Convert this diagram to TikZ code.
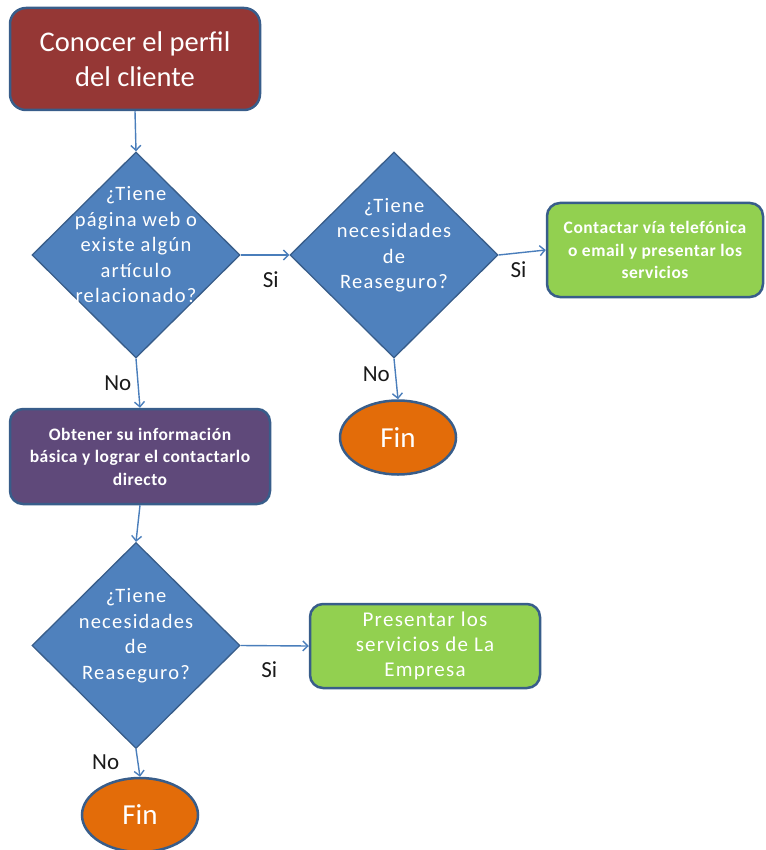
\documentclass[tikz,border=0pt]{standalone}
\usepackage{fontspec}
\setmainfont{Carlito}
\usetikzlibrary{shapes.geometric,arrows.meta}

\definecolor{rim}{HTML}{385D8A}
\definecolor{wine}{HTML}{953735}
\definecolor{decision}{HTML}{4F81BD}
\definecolor{leaf}{HTML}{92D050}
\definecolor{plum}{HTML}{5F497A}
\definecolor{ember}{HTML}{E36C09}
\definecolor{link}{HTML}{4A7EBB}
\definecolor{ink}{HTML}{1A1A1A}

\tikzset{
  box/.style={draw=rim, line width=2.5pt, rounded corners=13pt, align=center,
    text=white, inner sep=0pt},
  decide/.style={shape=diamond, draw=rim, line width=1.3pt, fill=decision,
    minimum width=208pt, minimum height=206pt, inner sep=0pt},
  dtext/.style={text=white, align=center,
    font=\fontsize{20.5}{25.5}\selectfont\addfontfeatures{LetterSpace=6}},
  endpoint/.style={shape=ellipse, draw=rim, line width=2.5pt, fill=ember,
    minimum width=116pt, minimum height=74pt, inner sep=0pt, text=white,
    font=\fontsize{29}{32}\selectfont},
  arr/.style={draw=link, line width=1.4pt, -{Straight Barb[length=5pt,width=10pt]}},
  lbl/.style={text=ink, font=\fontsize{23}{26}\selectfont, inner sep=0pt}
}

\begin{document}
\begin{tikzpicture}[x=1pt,y=-1pt]
\useasboundingbox (0,0) rectangle (765,850);

% process boxes
\node[box, fill=wine, minimum width=250pt, minimum height=102pt,
      rounded corners=16pt, font=\fontsize{28.5}{35}\selectfont]
      (start) at (135,59) {Conocer el perfil\\del cliente};
\node[box, fill=plum, minimum width=260pt, minimum height=95pt,
      font=\fontsize{17.5}{22.5}\selectfont\bfseries\addfontfeatures{LetterSpace=3}]
      (info) at (140,456.5) {Obtener su información\\básica y lograr el contactarlo\\directo};
\node[box, fill=leaf, minimum width=216pt, minimum height=94pt,
      font=\fontsize{17.5}{22.5}\selectfont\bfseries\addfontfeatures{LetterSpace=3}]
      (call) at (655,250) {Contactar vía telefónica\\o email y presentar los\\servicios};
\node[box, fill=leaf, minimum width=230pt, minimum height=84pt,
      font=\fontsize{21}{25}\selectfont\addfontfeatures{LetterSpace=6}]
      (offer) at (425,646) {Presentar los\\servicios de La\\Empresa};

% decisions
\node[decide] (web) at (136,255) {};
\node[dtext] (webq) at ([yshift=10pt]web.center)
  {¿Tiene\\página web o\\existe algún\\artículo\\relacionado?};
\node[decide] (need) at (394,255) {};
\node[dtext] (needq) at ([yshift=10pt]need.center)
  {¿Tiene\\necesidades\\de\\Reaseguro?};
\node[decide] (need2) at (136,645.5) {};
\node[dtext] (need2q) at ([yshift=10pt]need2.center)
  {¿Tiene\\necesidades\\de\\Reaseguro?};

% terminals
\node[endpoint] (end1) at (398,437.5) {Fin};
\node[endpoint] (end2) at (140,815) {Fin};

% connectors
\draw[arr] (start.south) -- (web.north);
\draw[arr] (web.east) -- node[lbl, pos=0.62, below=16pt] {Si} (need.west);
\draw[arr] (need.east) -- node[lbl, pos=0.42, below=8pt] {Si} (call.west);
\draw[arr] (need.south) -- node[lbl, pos=0.38, left=5pt] {No} (end1.north);
\draw[arr] (web.south) -- node[lbl, pos=0.5, left=6pt] {No} (info.north);
\draw[arr] (info.south) -- (need2.north);
\draw[arr] (need2.east) -- node[lbl, pos=0.42, below=15pt] {Si} (offer.west);
\draw[arr] (need2.south) -- node[lbl, pos=0.47, left=18pt] {No} (end2.north);
\end{tikzpicture}
\end{document}
